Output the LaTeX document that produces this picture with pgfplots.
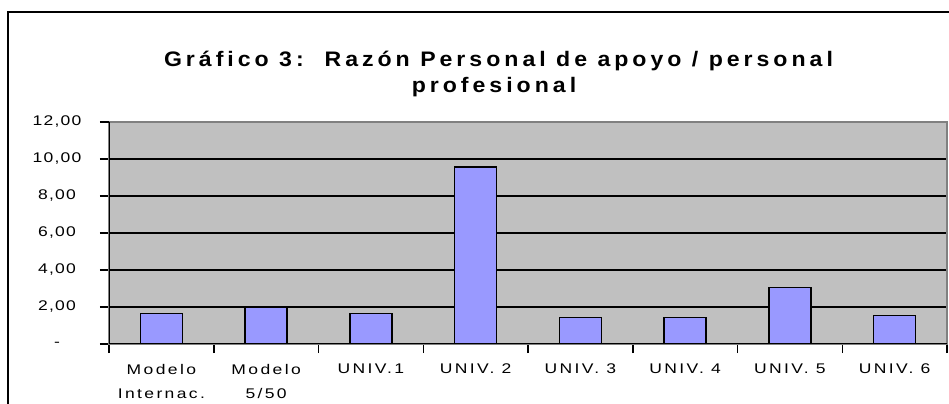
\documentclass[border=0pt]{standalone}
\usepackage{fontspec}
\setmainfont{Liberation Sans}
\newfontfamily\tickfont{Liberation Sans}[LetterSpace=17, FakeStretch=1.25]
\newfontfamily\ytickfont{Liberation Sans}[LetterSpace=9, FakeStretch=1.25]
\newfontfamily\titlefont{Liberation Sans}[LetterSpace=19, FakeStretch=1.1]
\usepackage{pgfplots}
\pgfplotsset{compat=1.18}
\definecolor{bggray}{HTML}{C0C0C0}
\definecolor{barblue}{HTML}{9999FF}
\definecolor{bordergray}{HTML}{808080}
\begin{document}
\begin{tikzpicture}
\path[use as bounding box] (0bp,0bp) rectangle (949bp,404bp);
\begin{scope}
\clip (0bp,0bp) rectangle (949bp,404bp);
\draw[line width=2.5bp] (8bp,-20bp) -- (8bp,392bp) -- (980bp,392bp);
\end{scope}
\node[font=\titlefont\bfseries\fontsize{21bp}{24bp}\selectfont, anchor=base, inner sep=0pt] at (498.5bp,337bp) {Gráfico 3:~~Razón Personal de apoyo / personal};
\node[font=\titlefont\bfseries\fontsize{21bp}{24bp}\selectfont, anchor=base, inner sep=0pt] at (494bp,311bp) {profesional};
\begin{axis}[
  at={(109bp,60bp)}, anchor=south west,
  scale only axis, width=838bp, height=222bp,
  xmin=-0.5, xmax=7.5, ymin=0, ymax=12,
  axis background/.style={fill=bggray},
  axis line style={draw=bordergray, line width=1.5bp},
  tick align=outside,
  major tick length=9bp,
  every tick/.style={black, line width=1.5bp},
  ytick={0,2,...,10},
  yticklabels={-,{2,00},{4,00},{6,00},{8,00},{10,00}},
  extra y ticks={12},
  extra y tick labels={\mbox{12,00}},
  extra y tick style={grid=none},
  ymajorgrids,
  major grid style={black, line width=1.5bp},
  ytick pos=left,
  xtick pos=left,
  xtick={-0.5,0.5,...,7.5},
  xticklabels={},
  extra x ticks={0,1,2,3,4,5,6,7},
  extra x tick labels={{Modelo\\Internac.},{Modelo\\5/50},{UNIV.1},{UNIV. 2},{UNIV. 3},{UNIV. 4},{UNIV. 5},{UNIV. 6}},
  extra x tick style={major tick length=0bp, tick label style={align=center, anchor=north, inner sep=0pt, yshift=-20bp}},
  every tick label/.append style={font=\tickfont\fontsize{14bp}{24bp}\selectfont},
  yticklabel style={anchor=center, xshift=-43bp, font=\ytickfont\fontsize{14bp}{24bp}\selectfont},
  ybar, bar width=42bp,
]
\addplot[fill=barblue, draw=black, line width=1.5bp] coordinates {
  (0,1.64) (1,1.96) (2,1.64) (3,9.58) (4,1.42) (5,1.42) (6,3.05) (7,1.53)
};
\draw[black, line width=1.5bp] (rel axis cs:0,1) -- (rel axis cs:0,0) -- (rel axis cs:1,0);
\end{axis}
\end{tikzpicture}
\end{document}
